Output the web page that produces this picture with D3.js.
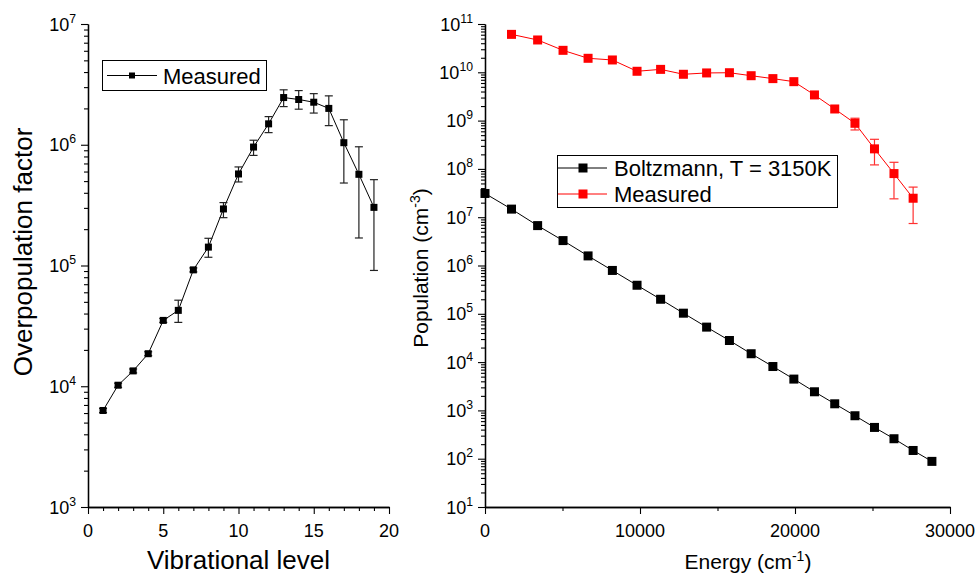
<!DOCTYPE html>
<html>
<head>
<meta charset="utf-8">
<script src="https://cdn.jsdelivr.net/npm/d3@7"></script>
<style>
  html, body { margin: 0; padding: 0; background: #fff; }
  svg { display: block; font-family: Arial, "Liberation Sans", sans-serif; }
</style>
</head>
<body>
<svg id="chart" width="975" height="576"></svg>
<script>
// ---------- Data ----------
// Left panel: overpopulation factor vs vibrational level
const levels = [1,2,3,4,5,6,7,8,9,10,11,12,13,14,15,16,17,18,19];
const overpop   = [6300,10200,13400,18600,35100,42500,92000,142000,294000,573000,957000,1490000,2460000,2370000,2250000,2000000,1040000,569000,303000];
const overpopLo = [6050,9800,12900,17900,33800,33800,88500,117000,249000,492000,816000,1260000,2070000,1970000,1830000,1440000,482000,169000,91000];
const overpopHi = [6550,10600,13900,19300,36400,51600,95500,168000,332000,655000,1090000,1710000,2850000,2810000,2650000,2540000,1610000,962000,514000];
const leftXTicks = [0,5,10,15,20];
const leftYDecades = [3,4,5,6,7];

// Right panel: population vs energy
const energy = [0,1710,3396,5035,6650,8218,9809,11329,12801,14298,15770,17171,18573,19926,21256,22563,23869,25128,26386,27621,28833];
const boltzmann = [3.1e7,1.47e7,6.7e6,3.28e6,1.58e6,7.9e5,3.9e5,2.0e5,1.03e5,5.3e4,2.8e4,1.49e4,8100,4450,2430,1370,775,444,259,148,88];
const measuredEnergy = [1710,3396,5035,6650,8218,9809,11329,12801,14298,15770,17171,18573,19926,21256,22563,23869,25128,26386,27621];
const measured   = [6.1e10,4.67e10,2.85e10,1.95e10,1.80e10,1.05e10,1.15e10,9.1e9,9.7e9,9.8e9,8.5e9,7.4e9,6.4e9,3.4e9,1.74e9,8.8e8,2.6e8,8.0e7,2.47e7];
const measuredLo = [null,null,null,null,null,null,null,null,null,null,null,null,null,null,null,6.4e8,1.21e8,2.4e7,7.4e6];
const measuredHi = [null,null,null,null,null,null,null,null,null,null,null,null,null,null,null,1.12e9,4.1e8,1.37e8,4.2e7];
const rightXTicks = [0,10000,20000,30000];
const rightXMinor = [5000,15000,25000];
const rightYDecades = [1,2,3,4,5,6,7,8,9,10,11];

// ---------- Layout ----------
const svg = d3.select("#chart");
const BOTTOM = 507, TOP = 24;

const xL = d3.scaleLinear().domain([0,20]).range([88,389]);
const yL = d3.scaleLog().domain([1e3,1e7]).range([BOTTOM,TOP]);
const xR = d3.scaleLinear().domain([0,30000]).range([485,950]);
const yR = d3.scaleLog().domain([1e1,1e11]).range([BOTTOM,TOP]);

function minorLog(decades) {
  const out = [];
  for (let i = 0; i < decades.length - 1; i++)
    for (let m = 2; m <= 9; m++) out.push(m * Math.pow(10, decades[i]));
  return out;
}

function styleAxis(g) {
  g.selectAll(".domain").attr("stroke","#000").attr("stroke-width",1.3);
  g.selectAll(".tick line").attr("stroke","#000").attr("stroke-width",1.1);
  g.selectAll(".tick text").remove();
}

function drawPanel(x, y, xTicks, xMinor, yDecades, tickFont) {
  const x0 = x.range()[0];
  // y axis
  svg.append("g").attr("transform",`translate(${x0},0)`)
    .call(d3.axisLeft(y).tickValues(minorLog(yDecades)).tickSize(4).tickSizeOuter(0))
    .call(styleAxis);
  svg.append("g").attr("transform",`translate(${x0},0)`)
    .call(d3.axisLeft(y).tickValues(yDecades.map(d=>Math.pow(10,d))).tickSize(7).tickSizeOuter(0))
    .call(styleAxis);
  // x axis
  svg.append("g").attr("transform",`translate(0,${BOTTOM})`)
    .call(d3.axisBottom(x).tickValues(xMinor).tickSize(4).tickSizeOuter(0))
    .call(styleAxis);
  svg.append("g").attr("transform",`translate(0,${BOTTOM})`)
    .call(d3.axisBottom(x).tickValues(xTicks).tickSize(7).tickSizeOuter(0))
    .call(styleAxis);
  // y labels with superscripts
  yDecades.forEach(d => {
    const t = svg.append("text")
      .attr("x", x0 - 12).attr("y", y(Math.pow(10,d)) + 6.5)
      .attr("text-anchor","end").attr("font-size",tickFont).attr("fill","#000");
    t.append("tspan").text("10");
    t.append("tspan").attr("font-size",tickFont*0.68).attr("dy",-8).text(String(d));
  });
  // x labels
  xTicks.forEach(v => {
    svg.append("text").attr("x", x(v)).attr("y", BOTTOM + 30)
      .attr("text-anchor","middle").attr("font-size",tickFont).attr("fill","#000")
      .text(String(v));
  });
}

drawPanel(xL, yL, leftXTicks, d3.range(1,20).filter(v=>v%5!==0), leftYDecades, 18);
drawPanel(xR, yR, rightXTicks, rightXMinor, rightYDecades, 18);

// ---------- Left series ----------
const lineL = d3.line().x((d,i)=>xL(levels[i])).y(d=>yL(d));
svg.append("path").datum(overpop).attr("d",lineL)
  .attr("fill","none").attr("stroke","#000").attr("stroke-width",1);

function errorBars(xs, lo, hi, xScale, yScale, color, cap) {
  xs.forEach((xv,i) => {
    if (lo[i] == null || hi[i] == null) return;
    const cx = xScale(xv), y1 = yScale(lo[i]), y2 = yScale(hi[i]);
    const g = svg.append("g").attr("stroke",color).attr("stroke-width",1.2);
    g.append("line").attr("x1",cx).attr("x2",cx).attr("y1",y1).attr("y2",y2);
    g.append("line").attr("x1",cx-cap).attr("x2",cx+cap).attr("y1",y1).attr("y2",y1);
    g.append("line").attr("x1",cx-cap).attr("x2",cx+cap).attr("y1",y2).attr("y2",y2);
  });
}
errorBars(levels, overpopLo, overpopHi, xL, yL, "#222", 4);

const sL = 7;
svg.selectAll(".mL").data(overpop).enter().append("rect")
  .attr("x",(d,i)=>xL(levels[i])-sL/2).attr("y",d=>yL(d)-sL/2)
  .attr("width",sL).attr("height",sL).attr("fill","#000");

// ---------- Right series ----------
const lineB = d3.line().x((d,i)=>xR(energy[i])).y(d=>yR(d));
svg.append("path").datum(boltzmann).attr("d",lineB)
  .attr("fill","none").attr("stroke","#000").attr("stroke-width",1);
const lineM = d3.line().x((d,i)=>xR(measuredEnergy[i])).y(d=>yR(d));
svg.append("path").datum(measured).attr("d",lineM)
  .attr("fill","none").attr("stroke","#ff0000").attr("stroke-width",1);

errorBars(measuredEnergy, measuredLo, measuredHi, xR, yR, "#ff3030", 4.5);

const sR = 9;
svg.selectAll(".mB").data(boltzmann).enter().append("rect")
  .attr("x",(d,i)=>xR(energy[i])-sR/2).attr("y",d=>yR(d)-sR/2)
  .attr("width",sR).attr("height",sR).attr("fill","#000");
svg.selectAll(".mM").data(measured).enter().append("rect")
  .attr("x",(d,i)=>xR(measuredEnergy[i])-sR/2).attr("y",d=>yR(d)-sR/2)
  .attr("width",sR).attr("height",sR).attr("fill","#ff0000");

// ---------- Axis titles ----------
svg.append("text").attr("x",(xL.range()[0]+xL.range()[1])/2).attr("y",569)
  .attr("text-anchor","middle").attr("font-size",26).text("Vibrational level");
svg.append("text").attr("transform","translate(32,252) rotate(-90)")
  .attr("text-anchor","middle").attr("font-size",26).text("Overpopulation factor");

const eT = svg.append("text").attr("x",748).attr("y",569)
  .attr("text-anchor","middle").attr("font-size",21);
eT.append("tspan").text("Energy (cm");
eT.append("tspan").attr("font-size",14).attr("dy",-8).text("-1");
eT.append("tspan").attr("dy",8).text(")");

const pT = svg.append("text").attr("transform","translate(428,268) rotate(-90)")
  .attr("text-anchor","middle").attr("font-size",21);
pT.append("tspan").text("Population (cm");
pT.append("tspan").attr("font-size",14).attr("dy",-8).text("-3");
pT.append("tspan").attr("dy",8).text(")");

// ---------- Legends ----------
// Left legend
svg.append("rect").attr("x",102.5).attr("y",60.5).attr("width",164).attr("height",30)
  .attr("fill","#fff").attr("stroke","#000").attr("stroke-width",1);
svg.append("line").attr("x1",107).attr("x2",157).attr("y1",75.5).attr("y2",75.5)
  .attr("stroke","#000").attr("stroke-width",1);
svg.append("rect").attr("x",132-3).attr("y",75.5-3).attr("width",6).attr("height",6).attr("fill","#000");
svg.append("text").attr("x",163).attr("y",83.5).attr("font-size",22).text("Measured");

// Right legend
svg.append("rect").attr("x",557.5).attr("y",155.5).attr("width",280).attr("height",52)
  .attr("fill","#fff").attr("stroke","#000").attr("stroke-width",1);
const legR = [
  {label:"Boltzmann, T = 3150K", color:"#000", y:168},
  {label:"Measured", color:"#ff0000", y:194}
];
legR.forEach(l => {
  svg.append("line").attr("x1",558).attr("x2",607).attr("y1",l.y).attr("y2",l.y)
    .attr("stroke",l.color).attr("stroke-width",1);
  svg.append("rect").attr("x",583-4.5).attr("y",l.y-4.5).attr("width",9).attr("height",9).attr("fill",l.color);
  svg.append("text").attr("x",614).attr("y",l.y+8).attr("font-size",22).text(l.label);
});
</script>
</body>
</html>
